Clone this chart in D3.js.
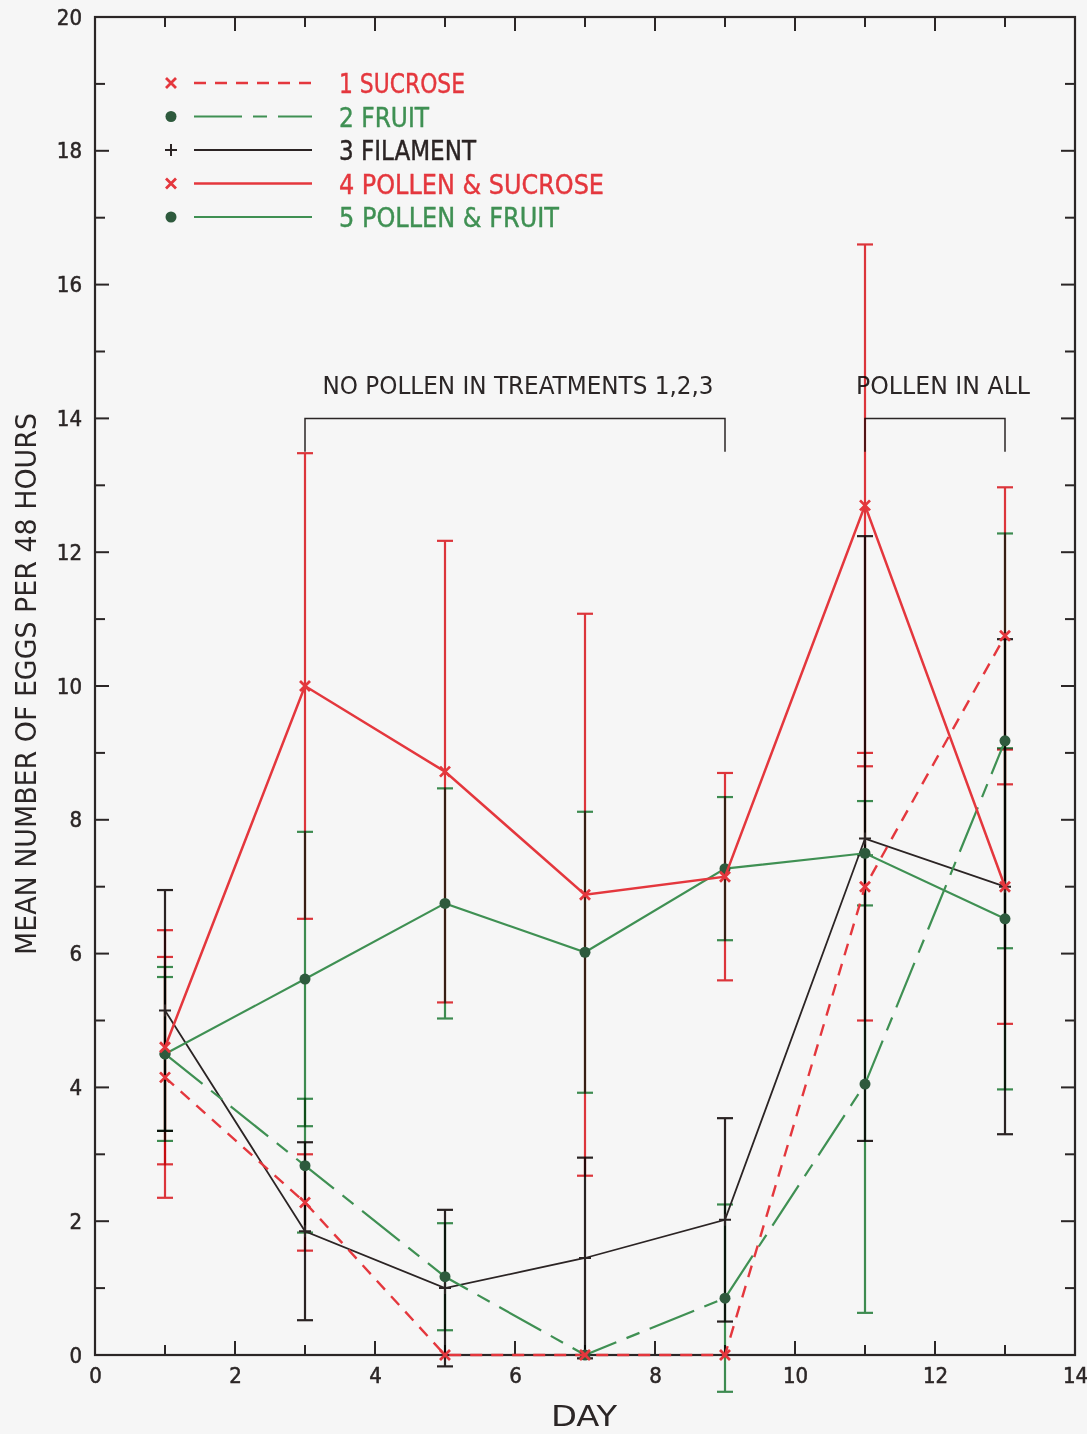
<!DOCTYPE html>
<html><head><meta charset="utf-8">
<script src="https://cdn.jsdelivr.net/npm/d3@7/dist/d3.min.js"></script>
<style>
html,body{margin:0;padding:0;background:#f6f6f6;}
svg{display:block;}
text{font-family:"DejaVu Sans Condensed","DejaVu Sans",sans-serif;}
</style></head>
<body>
<svg id="chart" width="1087" height="1434"></svg>
<script>
// ---- data ----
const days = [1, 3, 5, 7, 9, 11, 13];
const seriesNames = ["1 SUCROSE", "2 FRUIT", "3 FILAMENT", "4 POLLEN & SUCROSE", "5 POLLEN & FRUIT"];
const sucroseMean   = [4.15, 2.28, 0, 0, 0, 7.0, 10.75];
const sucroseErr    = [1.8, 0.72, 0, 0, 0, 2.0, 2.22];
const fruitMean     = [4.5, 2.83, 1.17, 0, 0.85, 4.05, 9.18];
const fruitErr      = [1.3, 1.0, 0.8, 0, 1.4, 3.42, 3.1];
const filamentMean  = [5.15, 1.85, 1.0, 1.45, 2.02, 7.72, 7.0];
const filamentErr   = [1.8, 1.33, 1.17, 1.5, 1.52, 4.52, 3.7];
const polSucMean    = [4.6, 10.0, 8.72, 6.88, 7.15, 12.7, 7.0];
const polSucErr     = [1.75, 3.48, 3.45, 4.2, 1.55, 3.9, 2.05];
const polFruitMean  = [4.5, 5.62, 6.75, 6.02, 7.27, 7.5, 6.52];
const polFruitErr   = [1.15, 2.2, 1.72, 2.1, 1.07, 0.78, 2.55];
const xTicks = [0, 2, 4, 6, 8, 10, 12, 14];
const yTicks = [0, 2, 4, 6, 8, 10, 12, 14, 16, 18, 20];
const annotations = [
  {text: "NO POLLEN IN TREATMENTS 1,2,3", from: 3, to: 9, level: 14, drop: 13.5},
  {text: "POLLEN IN ALL", from: 11, to: 13, level: 14, drop: 13.5}
];

const RED = "#e4373d", GREEN = "#3f9053", DKGREEN = "#2e5a3d", BLACK = "#2b2424";
const styles = [
  {color: RED,   marker: "x",   dash: "12,9",          width: 2.4, text: RED},
  {color: GREEN, marker: "dot", dash: "48,11,14,11",   width: 2.2, text: GREEN},
  {color: BLACK, marker: "+",   dash: null,            width: 1.8, text: BLACK},
  {color: RED,   marker: "x",   dash: null,            width: 2.5, text: RED},
  {color: GREEN, marker: "dot", dash: null,            width: 2.1, text: GREEN}
];
const means = [sucroseMean, fruitMean, filamentMean, polSucMean, polFruitMean];
const errs  = [sucroseErr, fruitErr, filamentErr, polSucErr, polFruitErr];

const svg = d3.select("#chart");
const x = d3.scaleLinear().domain([0, 14]).range([95, 1075]);
const y = d3.scaleLinear().domain([0, 20]).range([1355, 17]);

// frame
const axCol = "#2b2626";
svg.append("rect").attr("x", x(0)).attr("y", y(20)).attr("width", x(14)-x(0)).attr("height", y(0)-y(20))
  .attr("fill", "none").attr("stroke", axCol).attr("stroke-width", 2.2);

// ticks (inward, all four sides)
const xAll = d3.range(0, 15, 1), yAll = d3.range(0, 21, 1);
const tk = svg.append("g").attr("stroke", axCol).attr("stroke-width", 2);
xAll.forEach(v => {
  const L = v % 2 === 0 ? 14 : 10;
  tk.append("line").attr("x1", x(v)).attr("x2", x(v)).attr("y1", y(0)).attr("y2", y(0) - L);
  tk.append("line").attr("x1", x(v)).attr("x2", x(v)).attr("y1", y(20)).attr("y2", y(20) + L);
});
yAll.forEach(v => {
  const L = v % 2 === 0 ? 14 : 10;
  tk.append("line").attr("y1", y(v)).attr("y2", y(v)).attr("x1", x(0)).attr("x2", x(0) + L);
  tk.append("line").attr("y1", y(v)).attr("y2", y(v)).attr("x1", x(14)).attr("x2", x(14) - L);
});

// axes labels via d3 axes (lines hidden)
const xAxis = d3.axisBottom(x).tickValues(xTicks).tickSize(0).tickPadding(12).tickFormat(d3.format("d"));
const gx = svg.append("g").attr("transform", `translate(0,${y(0)})`).call(xAxis);
gx.select(".domain").remove();
gx.selectAll("text").attr("font-size", 22).attr("fill", axCol).attr("stroke", axCol).attr("stroke-width", 0.5)
  .attr("font-family", "DejaVu Sans Condensed, DejaVu Sans");
const yAxis = d3.axisLeft(y).tickValues(yTicks).tickSize(0).tickPadding(13).tickFormat(d3.format("d"));
const gy = svg.append("g").attr("transform", `translate(${x(0)},0)`).call(yAxis);
gy.select(".domain").remove();
gy.selectAll("text").attr("font-size", 22).attr("fill", axCol).attr("stroke", axCol).attr("stroke-width", 0.5)
  .attr("font-family", "DejaVu Sans Condensed, DejaVu Sans");

// axis titles
svg.append("text").attr("x", 584).attr("y", 1426).attr("text-anchor", "middle")
  .attr("font-size", 28).attr("fill", axCol).attr("font-family", "DejaVu Sans Condensed, DejaVu Sans")
  .attr("textLength", 66).attr("lengthAdjust", "spacingAndGlyphs").text("DAY");
svg.append("text").attr("transform", `translate(36,684) rotate(-90)`).attr("text-anchor", "middle")
  .attr("font-size", 28).attr("fill", axCol).attr("font-family", "DejaVu Sans Condensed, DejaVu Sans")
  .attr("textLength", 542).attr("lengthAdjust", "spacingAndGlyphs")
  .text("MEAN NUMBER OF EGGS PER 48 HOURS");

// annotations
annotations.forEach(a => {
  svg.append("path")
    .attr("d", `M${x(a.from)},${y(a.drop)}V${y(a.level)}H${x(a.to)}V${y(a.drop)}`)
    .attr("fill", "none").attr("stroke", axCol).attr("stroke-width", 1.5);
});
svg.append("text").attr("x", 518).attr("y", 394).attr("text-anchor", "middle").attr("font-size", 25)
  .attr("fill", axCol).attr("textLength", 391).attr("lengthAdjust", "spacingAndGlyphs").text(annotations[0].text);
svg.append("text").attr("x", 943).attr("y", 394).attr("text-anchor", "middle").attr("font-size", 25)
  .attr("fill", axCol).attr("textLength", 174).attr("lengthAdjust", "spacingAndGlyphs").text(annotations[1].text);

// series
const plot = svg.append("g");
const line = d3.line().x(d => x(d[0])).y(d => y(d[1]));
const drawOrder = [2, 1, 0, 4, 3];

// error bars
means.forEach((m, i) => {
  const st = styles[i];
  const g = plot.append("g").attr("stroke", st.color).attr("stroke-width", 2.2).style("mix-blend-mode", "multiply");
  days.forEach((d, j) => {
    const e = errs[i][j];
    if (e <= 0) return;
    const lo = m[j] - e, hi = m[j] + e;
    g.append("line").attr("x1", x(d)).attr("x2", x(d)).attr("y1", y(lo)).attr("y2", y(hi));
    g.append("line").attr("x1", x(d) - 8).attr("x2", x(d) + 8).attr("y1", y(lo)).attr("y2", y(lo));
    g.append("line").attr("x1", x(d) - 8).attr("x2", x(d) + 8).attr("y1", y(hi)).attr("y2", y(hi));
  });
});

function drawMarker(g, type, cx, cy, color) {
  if (type === "x") {
    const s = 5;
    g.append("path").attr("d", `M${cx-s},${cy-s}L${cx+s},${cy+s}M${cx-s},${cy+s}L${cx+s},${cy-s}`)
      .attr("stroke", color).attr("stroke-width", 2.8).attr("fill", "none");
  } else if (type === "+") {
    const s = 6;
    g.append("path").attr("d", `M${cx-s},${cy}L${cx+s},${cy}M${cx},${cy-s}L${cx},${cy+s}`)
      .attr("stroke", color).attr("stroke-width", 2).attr("fill", "none");
  } else {
    g.append("circle").attr("cx", cx).attr("cy", cy).attr("r", 5.5).attr("fill", DKGREEN);
  }
}

drawOrder.forEach(i => {
  const st = styles[i];
  const pts = days.map((d, j) => [d, means[i][j]]);
  plot.append("path").datum(pts).attr("d", line).attr("fill", "none")
    .attr("stroke", st.color).attr("stroke-width", st.width)
    .attr("stroke-dasharray", st.dash);
  pts.forEach(p => drawMarker(plot, st.marker, x(p[0]), y(p[1]), st.color));
});

// legend
const leg = svg.append("g");
const legWidths = [126, 90, 137, 265, 220];
seriesNames.forEach((name, i) => {
  const st = styles[i];
  const cy = 83 + i * 33.5;
  drawMarker(leg, st.marker, 171, cy, st.color);
  leg.append("line").attr("x1", 194).attr("x2", 312).attr("y1", cy).attr("y2", cy)
    .attr("stroke", st.color).attr("stroke-width", st.width).attr("stroke-dasharray", st.dash);
  leg.append("text").attr("x", 339).attr("y", cy + 10).attr("font-size", 27).attr("fill", st.text)
    .attr("stroke", st.text).attr("stroke-width", 0.4)
    .attr("textLength", legWidths[i]).attr("lengthAdjust", "spacingAndGlyphs").text(name);
});
</script>
</body></html>
